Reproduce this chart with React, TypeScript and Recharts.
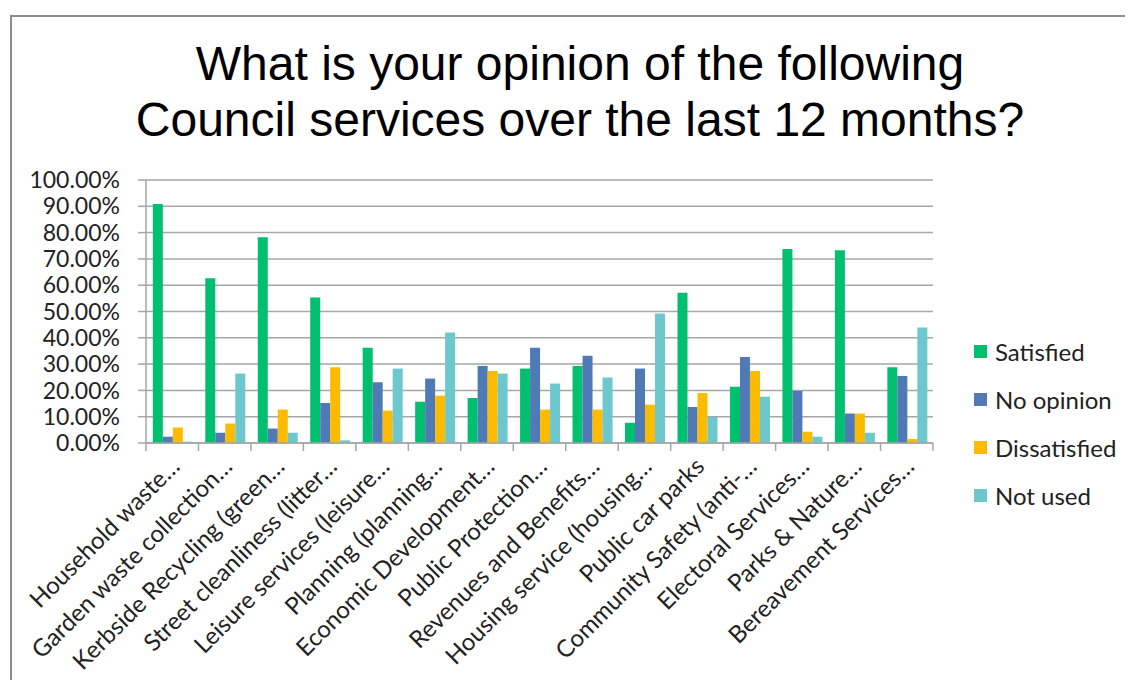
import React from "react";
import {
  Bar,
  BarChart,
  CartesianGrid,
  Legend,
  XAxis,
  YAxis,
} from "recharts";

// service names as they appear (truncated) on the category axis
const services = [
  "Household waste…",
  "Garden waste collection…",
  "Kerbside Recycling (green…",
  "Street cleanliness (litter…",
  "Leisure services (leisure…",
  "Planning (planning…",
  "Economic Development…",
  "Public Protection…",
  "Revenues and Benefits…",
  "Housing service (housing…",
  "Public car parks",
  "Community Safety (anti-…",
  "Electoral Services…",
  "Parks & Nature…",
  "Bereavement Services…",
];

// percentages
const satisfied = [90.9, 62.6, 78.2, 55.3, 36.2, 15.7, 17.1, 28.3, 29.3, 7.7, 57.1, 21.4, 73.8, 73.3, 28.8];
const noOpinion = [2.4, 3.9, 5.5, 15.2, 23.1, 24.5, 29.3, 36.2, 33.2, 28.3, 13.7, 32.7, 19.8, 11.2, 25.5];
const dissatisfied = [5.9, 7.4, 12.7, 28.8, 12.3, 18.0, 27.4, 12.7, 12.7, 14.6, 19.0, 27.4, 4.3, 11.2, 1.5];
const notUsed = [0.5, 26.4, 3.9, 1.0, 28.3, 42.0, 26.4, 22.6, 24.9, 49.2, 9.9, 17.6, 2.4, 3.9, 43.9];

const yTicks = [0, 10, 20, 30, 40, 50, 60, 70, 80, 90, 100];

const series = [
  { key: "satisfied", name: "Satisfied", color: "#00BF6F" },
  { key: "noOpinion", name: "No opinion", color: "#4F7AB5" },
  { key: "dissatisfied", name: "Dissatisfied", color: "#FABB00" },
  { key: "notUsed", name: "Not used", color: "#6CC8CC" },
];

const data = services.map((name, i) => ({
  name,
  satisfied: satisfied[i],
  noOpinion: noOpinion[i],
  dissatisfied: dissatisfied[i],
  notUsed: notUsed[i],
}));

const W = 1133;
const H = 688;
const PLOT_LEFT = 146;
const PLOT_RIGHT = 933;
const BAND = (PLOT_RIGHT - PLOT_LEFT) / services.length;
const FONT = "Lato, 'Open Sans', sans-serif";
const GREY = "#a6a6a6";

// Excel puts the tick marks between categories, so draw them ourselves
function CategoryTick(props: any) {
  const { x, y, payload, index } = props;
  const half = BAND / 2;
  const tx = x + 3;
  const ty = y + 19;
  return (
    <g>
      <line x1={x - half} y1={y} x2={x - half} y2={y + 8} stroke={GREY} strokeWidth={1.5} />
      {index === services.length - 1 && (
        <line x1={x + half} y1={y} x2={x + half} y2={y + 8} stroke={GREY} strokeWidth={1.5} />
      )}
      <text
        x={tx}
        y={ty}
        dy="0.35em"
        textAnchor="end"
        transform={`rotate(-45 ${tx} ${ty})`}
        fontFamily={FONT}
        fontSize={24}
        fill="#222"
      >
        {payload.value}
      </text>
    </g>
  );
}

function LegendBox() {
  return (
    <div style={{ fontFamily: FONT, fontSize: 24, color: "#222" }}>
      {series.map((s) => (
        <div key={s.key} style={{ display: "flex", alignItems: "center", height: 48 }}>
          <span style={{ width: 13, height: 13, background: s.color, marginRight: 8 }} />
          <span>{s.name}</span>
        </div>
      ))}
    </div>
  );
}

export default function App() {
  return (
    <div style={{ margin: -8, width: W, height: H, position: "relative", overflow: "hidden", background: "#fff" }}>
      <div
        style={{
          position: "absolute",
          left: 10,
          top: 15,
          width: W,
          height: H,
          borderLeft: "2px solid #8c8c8c",
          borderTop: "2px solid #8c8c8c",
        }}
      />
      <svg width={W} height={170} style={{ position: "absolute", left: 0, top: 0 }}>
        <text x={580} y={80} textAnchor="middle" fontFamily="'Liberation Sans', Arial, sans-serif" fontSize={48} fill="#000">
          What is your opinion of the following
        </text>
        <text x={580} y={136} textAnchor="middle" fontFamily="'Liberation Sans', Arial, sans-serif" fontSize={48} fill="#000">
          Council services over the last 12 months?
        </text>
      </svg>
      <div style={{ position: "absolute", left: 0, top: 0 }}>
        <BarChart
          width={W}
          height={H}
          data={data}
          margin={{ top: 180, right: W - PLOT_RIGHT, bottom: 45, left: 10 }}
          barCategoryGap="13%"
          barGap={0}
        >
          <CartesianGrid vertical={false} stroke={GREY} strokeWidth={1.5} />
          <XAxis
            dataKey="name"
            interval={0}
            height={200}
            tickSize={0}
            tickMargin={0}
            axisLine={{ stroke: GREY, strokeWidth: 1.5 }}
            tick={<CategoryTick />}
          />
          <YAxis
            width={136}
            domain={[0, 100]}
            ticks={yTicks}
            interval={0}
            tickSize={8}
            tickMargin={18}
            tickFormatter={(v: number) => `${v.toFixed(2)}%`}
            axisLine={{ stroke: GREY, strokeWidth: 1.5 }}
            tickLine={{ stroke: GREY, strokeWidth: 1.5 }}
            tick={{ fontFamily: FONT, fontSize: 23, fill: "#222" }}
          />
          <Legend
            layout="horizontal"
            align="center"
            verticalAlign="middle"
            wrapperStyle={{ left: 974, top: 327, width: 160 }}
            content={() => <LegendBox />}
          />
          {series.map((s) => (
            <Bar key={s.key} dataKey={s.key} name={s.name} fill={s.color} isAnimationActive={false} />
          ))}
        </BarChart>
      </div>
    </div>
  );
}
